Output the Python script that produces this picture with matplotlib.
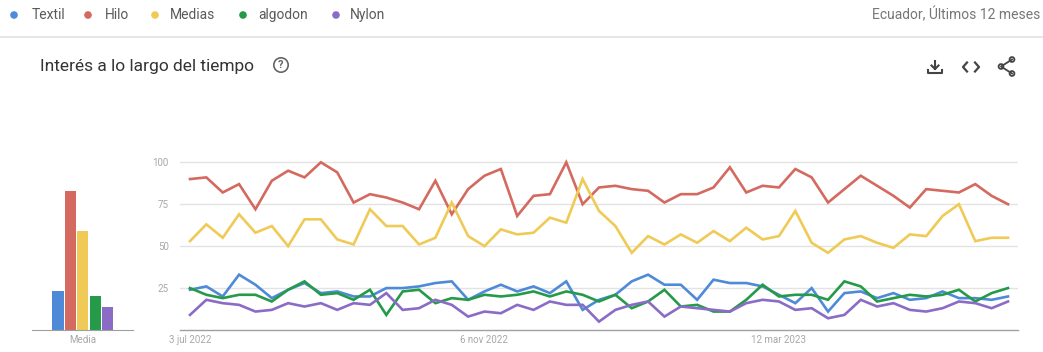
import matplotlib
matplotlib.use("Agg")
import matplotlib.pyplot as plt
from matplotlib.patches import Circle
from matplotlib.lines import Line2D

plt.rcParams['font.family'] = ['Roboto', 'DejaVu Sans']

# ---------------- data ----------------
series_names = ["Textil", "Hilo", "Medias", "algodon", "Nylon"]
textil = [24, 26, 20, 33, 27, 19, 24, 28, 22, 23, 20, 20, 25, 25, 26, 28, 29, 18, 23, 27,
          23, 26, 22, 29, 12, 18, 21, 29, 33, 27, 27, 18, 30, 28, 28, 26, 21, 16, 25, 11,
          22, 23, 19, 22, 18, 19, 23, 19, 19, 18, 20]
hilo = [90, 91, 82, 87, 72, 89, 95, 91, 100, 94, 76, 81, 79, 76, 72, 89, 69, 84, 92, 96,
        68, 80, 81, 100, 75, 85, 86, 84, 83, 76, 81, 81, 85, 97, 82, 86, 85, 96, 91, 76,
        84, 92, 86, 80, 73, 84, 83, 82, 87, 80, 75]
medias = [53, 63, 55, 69, 58, 62, 50, 66, 66, 54, 51, 72, 62, 62, 51, 55, 76, 56, 50, 60,
          57, 58, 67, 64, 90, 71, 62, 46, 56, 51, 57, 52, 59, 53, 61, 54, 56, 71, 52, 46,
          54, 56, 52, 49, 57, 56, 68, 75, 53, 55, 55]
algodon = [25, 21, 19, 21, 21, 17, 24, 29, 21, 22, 18, 24, 9, 23, 24, 16, 19, 18, 21, 20,
           21, 23, 20, 23, 21, 17, 21, 13, 17, 24, 14, 15, 11, 11, 18, 27, 20, 21, 21, 18,
           29, 26, 17, 19, 21, 20, 21, 24, 17, 22, 25]
nylon = [9, 18, 16, 15, 11, 12, 16, 14, 16, 12, 16, 15, 22, 12, 13, 18, 15, 8, 11, 10,
         15, 12, 17, 15, 15, 5, 12, 15, 17, 8, 14, 13, 12, 11, 16, 18, 17, 12, 13, 7,
         9, 18, 14, 16, 12, 11, 13, 17, 16, 13, 17]
media_values = [23, 83, 59, 20, 14]
x_tick_pos = [0, 18, 36]
x_tick_labels = ["3 jul 2022", "6 nov 2022", "12 mar 2023"]
y_ticks = [25, 50, 75, 100]

colors = ["#4f8ad9", "#d46a5f", "#f0ca56", "#259a48", "#8a6cc6"]

# ---------------- layout ----------------
W, H = 1043, 352
fig = plt.figure(figsize=(W / 100, H / 100), dpi=100)
fig.patch.set_facecolor("white")


def rect(l, t, r, b):
    return [l / W, 1 - b / H, (r - l) / W, (b - t) / H]


# overlay axes in pixel coordinates
ov = fig.add_axes([0, 0, 1, 1])
ov.set_xlim(0, W)
ov.set_ylim(H, 0)
ov.axis("off")

# header legend
leg_dot_x = [14, 88, 155, 243, 336]
leg_txt_x = [32, 105, 170, 258, 350]
for name, c, dx, tx in zip(series_names, colors, leg_dot_x, leg_txt_x):
    ov.add_patch(Circle((dx, 15), 3.8, color=c, lw=0))
    ov.text(tx, 15, name, fontsize=10, color="#5a5a5a", va="center", ha="left")
ov.text(1040, 15, "Ecuador, Últimos 12 meses", fontsize=10, color="#777777",
        va="center", ha="right")
ov.add_line(Line2D([0, W], [37, 37], color="#e2e2e2", lw=1.2))

# title
ov.text(40, 67, "Interés a lo largo del tiempo", fontsize=12.5, color="#333333",
        va="center", ha="left")
ov.add_patch(Circle((281, 65), 7.2, fill=False, ec="#666666", lw=1.2))
ov.text(281, 65.5, "?", fontsize=8, color="#666666", va="center", ha="center",
        fontweight="bold")

# icons: download
ic = "#444444"
ov.add_line(Line2D([935, 935], [61, 69], color=ic, lw=1.5))
ov.add_line(Line2D([931.5, 935, 938.5], [65.5, 69, 65.5], color=ic, lw=1.5))
ov.add_line(Line2D([928, 928, 942, 942], [70, 73, 73, 70], color=ic, lw=1.5))
# code <>
ov.add_line(Line2D([967, 963, 967], [62.5, 67, 71.5], color=ic, lw=1.6))
ov.add_line(Line2D([975, 979, 975], [62.5, 67, 71.5], color=ic, lw=1.6))
# share
ov.add_line(Line2D([1012, 1001, 1012], [59.5, 66.5, 73.5], color=ic, lw=1.3))
for cx, cy in [(1012, 59.5), (1001, 66.5), (1012, 73.5)]:
    ov.add_patch(Circle((cx, cy), 2.4, fill=False, ec=ic, lw=1.3))

# ---------------- main line chart ----------------
px_per_unit = (330 - 162.3) / 100
ax = fig.add_axes(rect(180, 150, 1018, 330))
ax.set_facecolor("none")
x = list(range(len(hilo)))
for ys, c in zip([textil, hilo, medias, algodon, nylon], colors):
    ax.plot(x, ys, color=c, lw=1.9, solid_joinstyle="miter", zorder=3)
step = (1008.3 - 190) / (len(hilo) - 1)
ax.set_xlim(-10 / step, len(hilo) - 1 + 10 / step)
ax.set_ylim(0, 180 / px_per_unit)
for yv in y_ticks:
    ax.axhline(yv, color="#e3e3e3", lw=1, zorder=1)
for s in ["top", "right", "left"]:
    ax.spines[s].set_visible(False)
ax.spines["bottom"].set_color("#a0a0a0")
ax.spines["bottom"].set_linewidth(1)
ax.set_yticks(y_ticks)
ax.set_yticklabels([str(v) for v in y_ticks])
ax.set_xticks(x_tick_pos)
ax.set_xticklabels(x_tick_labels)
ax.tick_params(axis="y", length=0, pad=8, labelsize=7, labelcolor="#a8a8a8")
ax.tick_params(axis="x", length=0, pad=3.5, labelsize=7, labelcolor="#a8a8a8")

# ---------------- mean bar chart ----------------
bx = fig.add_axes(rect(31.7, 150, 133, 330))
bx.set_facecolor("none")
bx.bar(range(len(media_values)), media_values, width=0.91, color=colors, zorder=2)
bx.set_ylim(0, 180 / px_per_unit)
bx.set_xlim(-2.12, -2.12 + 101.3 / 12.4)
for s in ["top", "right", "left"]:
    bx.spines[s].set_visible(False)
bx.spines["bottom"].set_color("#a0a0a0")
bx.set_yticks([])
bx.set_xticks([2])
bx.set_xticklabels(["Media"])
bx.tick_params(axis="x", length=0, pad=3.5, labelsize=7, labelcolor="#a8a8a8")

fig.savefig("out.png", dpi=100, facecolor="white")
